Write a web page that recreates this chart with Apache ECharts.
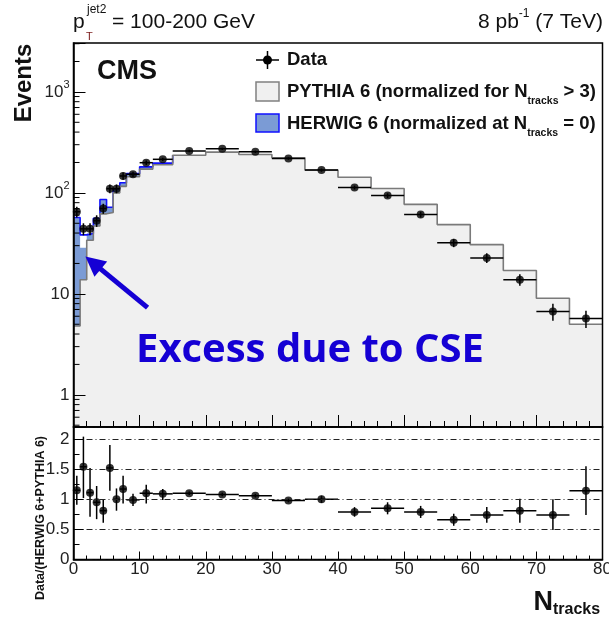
<!DOCTYPE html>
<html>
<head>
<meta charset="utf-8">
<script src="https://cdn.jsdelivr.net/npm/echarts@6/dist/echarts.min.js"></script>
<style>
html,body{margin:0;padding:0;background:#fff;}
#c{width:609px;height:617px;}
</style>
</head>
<body>
<div id="c"></div>
<script>
// ---- data ----
const binEdges = [0,1,2,3,4,5,6,7,8,10,12,15,20,25,30,35,40,45,50,55,60,65,70,75,80];
const dataEvents = [65,44,44,53,70,110,110,147,153,199,215,260,273,255,219,168,113,94,61,32,22.7,13.8,6.7,5.7];
const dataErr    = [8,6,6,7,8,11,11,12,9,10,8,7,7,7,6,6,5,5,4,3,2.5,1.8,1.3,1.1];
const pythia     = [4.8,13.8,34,47,62,64,100,116,145,172,190,236,253,240,223,168,143,110.6,77,48.5,30.7,17,9.05,5.0];
const herwigPlusPythia = [57,28.6,39.6,56,86,72,110,126,155,181,197,236,253,240,223,168,143,110.6,77,48.5,30.7,17,9.05,5.0];
const herwigOutline    = [57,38.4,39.6,56,86,72,110,126,155,181,197,236];
const ratio      = [1.15,1.54,1.11,0.95,0.81,1.52,1.0,1.17,0.99,1.1,1.09,1.1,1.08,1.06,0.98,1.0,0.79,0.85,0.79,0.66,0.74,0.81,0.74,1.14];
const ratioErrUp = [0.24,0.5,0.41,0.27,0.19,0.38,0.18,0.22,0.1,0.14,0.08,0.03,0.03,0.03,0.03,0.06,0.08,0.1,0.1,0.1,0.13,0.2,0.26,0.41];
const ratioErrDn = [0.24,0.52,0.4,0.28,0.2,0.38,0.19,0.24,0.1,0.17,0.1,0.03,0.03,0.03,0.03,0.06,0.08,0.1,0.1,0.1,0.13,0.2,0.25,0.4];
const xTicks = [0,10,20,30,40,50,60,70,80];
const ratioTicks = [0,0.5,1,1.5,2];
const logMinorTicks = [0.5,0.6,0.7,0.8,0.9,2,3,4,5,6,7,8,9,20,30,40,50,60,70,80,90,200,300,400,500,600,700,800,900,2000,3000];
const arrowTail = [11.2, 7.3];
const arrowTip = [1.8, 23.5];

// ---- helpers ----
function stepData(vals){
  const pts = vals.map((v,i)=>[binEdges[i], v]);
  if (vals.length === binEdges.length-1) pts.push([binEdges[vals.length], vals[vals.length-1]]);
  return pts;
}
const centers = binEdges.slice(0,-1).map((e,i)=>(e+binEdges[i+1])/2);
const dataErrItems = dataEvents.map((v,i)=>[centers[i], v, binEdges[i], binEdges[i+1], v-dataErr[i], v+dataErr[i]]);
const ratioErrItems = ratio.map((v,i)=>[centers[i], v, binEdges[i], binEdges[i+1], v-ratioErrDn[i], v+ratioErrUp[i]]);

function errRender(params, api){
  const c = api.coord([api.value(0), api.value(1)]);
  const l = api.coord([api.value(2), api.value(1)]);
  const r = api.coord([api.value(3), api.value(1)]);
  const lo = api.coord([api.value(0), api.value(4)]);
  const hi = api.coord([api.value(0), api.value(5)]);
  const st = {stroke:'#000', lineWidth:1.5};
  return {type:'group', children:[
    {type:'line', shape:{x1:l[0], y1:c[1], x2:r[0], y2:c[1]}, style:st},
    {type:'line', shape:{x1:c[0], y1:lo[1], x2:c[0], y2:hi[1]}, style:st}
  ]};
}
function isPow10(v){ const l = Math.log10(v); return Math.abs(l-Math.round(l))<1e-6; }

const FONT = 'Liberation Sans, Arial, sans-serif';
const chart = echarts.init(document.getElementById('c'), null, {renderer:'canvas'});
const BLUE_TXT = '#1500d4';

chart.setOption({
  animation:false,
  backgroundColor:'#fff',
  grid:[
    {left:73.5, top:43, width:529, height:384, show:true, borderColor:'#000', borderWidth:1.5, z:20, containLabel:false, outerBoundsMode:'none'},
    {left:73.5, top:427, width:529, height:132.5, show:true, borderColor:'#000', borderWidth:1.5, z:20, containLabel:false, outerBoundsMode:'none'}
  ],
  xAxis:[
    {type:'value', gridIndex:0, min:0, max:80, interval:10, z:20,
     axisLine:{lineStyle:{color:'#000', width:1.5}},
     axisTick:{inside:true, length:12, lineStyle:{color:'#000'}},
     minorTick:{show:true, splitNumber:5, length:6, lineStyle:{color:'#000'}},
     axisLabel:{show:false}, splitLine:{show:false}},
    {type:'value', gridIndex:1, min:0, max:80, interval:10, z:20,
     axisLine:{lineStyle:{color:'#000', width:1.5}},
     axisTick:{inside:true, length:8, lineStyle:{color:'#000'}},
     minorTick:{show:true, splitNumber:5, length:4, lineStyle:{color:'#000'}},
     axisLabel:{fontFamily:FONT, fontSize:17, color:'#222', margin:1, hideOverlap:false,
       formatter:(v)=> xTicks.indexOf(v)>=0 ? String(v) : ''},
     splitLine:{show:false}}
  ],
  yAxis:[
    {type:'log', logBase:10, gridIndex:0, min:0.48, max:3050, z:20,
     axisLine:{lineStyle:{color:'#000', width:1.5}},
     axisTick:{inside:true, length:12, lineStyle:{color:'#000'}},
     axisLabel:{margin:4, color:'#222',
       formatter:(v)=>{
         if(!isPow10(v)) return '';
         const e = Math.round(Math.log10(v));
         if(e===0) return '{b|1}';
         if(e===1) return '{b|10}';
         return '{b|10}{s|'+e+'}';
       },
       rich:{b:{fontFamily:FONT, fontSize:17, color:'#222', lineHeight:24},
             s:{fontFamily:FONT, fontSize:11, color:'#222', verticalAlign:'top'}}},
     splitLine:{show:false}},
    {type:'value', gridIndex:1, min:0, max:2.2, interval:0.5, z:20,
     axisLine:{lineStyle:{color:'#000', width:1.5}},
     axisTick:{inside:true, length:10, lineStyle:{color:'#000'}},
     minorTick:{show:true, splitNumber:2, length:6, lineStyle:{color:'#000'}},
     axisLabel:{fontFamily:FONT, fontSize:17, color:'#222', margin:4,
       formatter:(v)=> ratioTicks.indexOf(+v.toFixed(2))>=0 ? String(+v.toFixed(2)) : ''},
     splitLine:{show:true, lineStyle:{color:'#222', width:1, type:[6,3,1,3]}}}
  ],
  graphic:[
    // header
    {type:'text', left:73, top:12, z:100, style:{text:'p', font:'21px '+FONT, fill:'#111'}},
    {type:'text', left:87, top:4, z:100, style:{text:'jet2', font:'12px '+FONT, fill:'#111'}},
    {type:'text', left:86, top:31, z:100, style:{text:'T', font:'11px '+FONT, fill:'#7a1a1a'}},
    {type:'text', left:112, top:12, z:100, style:{text:'= 100-200 GeV', font:'21px '+FONT, fill:'#111'}},
    {type:'text', right:6, top:8, z:100, style:{
      text:'{n|8 pb}{s|-1}{n| (7 TeV)}',
      rich:{n:{font:'21px '+FONT, fill:'#111', lineHeight:28}, s:{font:'12px '+FONT, fill:'#111', verticalAlign:'top'}}}},
    // axis titles
    {type:'text', x:24, y:83, rotation:Math.PI/2, z:100, style:{text:'Events', font:'bold 24px '+FONT, fill:'#111', align:'center', verticalAlign:'middle'}},
    {type:'text', x:41, y:518, rotation:Math.PI/2, z:100, style:{text:'Data/(HERWIG 6+PYTHIA 6)', font:'bold 12.5px '+FONT, fill:'#111', align:'center', verticalAlign:'middle'}},
    {type:'text', x:553, y:603, z:100, style:{text:'N', font:'bold 27px '+FONT, fill:'#111', align:'right', verticalAlign:'middle'}},
    {type:'text', x:553, y:610, z:100, style:{text:'tracks', font:'bold 16px '+FONT, fill:'#111', align:'left', verticalAlign:'middle'}},
    // CMS
    {type:'text', x:97, y:72, z:100, style:{text:'CMS', font:'bold 27px '+FONT, fill:'#111', verticalAlign:'middle'}},
    // legend
    {type:'line', z:100, shape:{x1:256, y1:60, x2:279, y2:60}, style:{stroke:'#000', lineWidth:1.5}},
    {type:'line', z:100, shape:{x1:267.5, y1:51, x2:267.5, y2:69}, style:{stroke:'#000', lineWidth:1.5}},
    {type:'circle', z:100, shape:{cx:267.5, cy:60, r:4.5}, style:{fill:'#000'}},
    {type:'text', x:287, y:60, z:100, style:{text:'Data', font:'bold 18.5px '+FONT, fill:'#111', verticalAlign:'middle'}},
    {type:'rect', z:100, shape:{x:256, y:82, width:23, height:19}, style:{fill:'#f0f0f0', stroke:'#808080', lineWidth:1.5}},
    {type:'text', x:287, y:92, z:100, style:{
      text:'{t|PYTHIA 6 (normalized for N}{s|tracks}{t| > 3)}', verticalAlign:'middle',
      rich:{t:{font:'bold 18.5px '+FONT, fill:'#111', lineHeight:30}, s:{font:'bold 10.5px '+FONT, fill:'#111', verticalAlign:'bottom', lineHeight:14}}}},
    {type:'rect', z:100, shape:{x:256, y:114, width:23, height:18}, style:{fill:'#7b9bd5', stroke:'#1010ff', lineWidth:1.5}},
    {type:'text', x:287, y:124, z:100, style:{
      text:'{t|HERWIG 6 (normalized at N}{s|tracks}{t| = 0)}', verticalAlign:'middle',
      rich:{t:{font:'bold 18.5px '+FONT, fill:'#111', lineHeight:30}, s:{font:'bold 10.5px '+FONT, fill:'#111', verticalAlign:'bottom', lineHeight:14}}}},
    // annotation
    {type:'text', x:136, y:351, z:100, style:{text:'Excess due to CSE', font:'bold 40px "Open Sans", sans-serif', fill:BLUE_TXT, verticalAlign:'middle'}}
  ],
  series:[
    {name:'HERWIG fill', type:'line', xAxisIndex:0, yAxisIndex:0, step:'end', data:stepData(herwigPlusPythia),
     symbol:'none', lineStyle:{width:0}, areaStyle:{origin:'start', color:'#7b9bd5', opacity:1}, z:1, silent:true},
    {name:'PYTHIA fill', type:'line', xAxisIndex:0, yAxisIndex:0, step:'end', data:stepData(pythia),
     symbol:'none', lineStyle:{width:0}, areaStyle:{origin:'start', color:'#f0f0f0', opacity:1}, z:2, silent:true},
    {name:'HERWIG line', type:'line', xAxisIndex:0, yAxisIndex:0, step:'end', data:stepData(herwigOutline),
     symbol:'none', lineStyle:{width:1.6, color:'#1010ff'}, z:3, silent:true},
    {name:'PYTHIA line', type:'line', xAxisIndex:0, yAxisIndex:0, step:'end', data:stepData(pythia),
     symbol:'none', lineStyle:{width:1.6, color:'#7a7a7a'}, z:4, silent:true},
    {name:'Data err', type:'custom', xAxisIndex:0, yAxisIndex:0, data:dataErrItems, renderItem:errRender,
     encode:{x:[0,2,3], y:[1,4,5]}, z:5, silent:true},
    {name:'Data', type:'scatter', xAxisIndex:0, yAxisIndex:0, data:dataEvents.map((v,i)=>[centers[i], v]),
     symbol:'circle', symbolSize:8, itemStyle:{color:'#000'}, z:6, silent:true},
    {name:'Arrow', type:'custom', xAxisIndex:0, yAxisIndex:0, data:[[arrowTail[0], arrowTail[1], arrowTip[0], arrowTip[1]]],
     z:40, silent:true, clip:false,
     renderItem:(params, api)=>{
       const a = api.coord([api.value(0), api.value(1)]);
       const b = api.coord([api.value(2), api.value(3)]);
       const dx = b[0]-a[0], dy = b[1]-a[1], L = Math.sqrt(dx*dx+dy*dy);
       const ux = dx/L, uy = dy/L, px = -uy, py = ux;
       const head = 20, hw = 10;
       const base = [b[0]-ux*head, b[1]-uy*head];
       return {type:'group', children:[
         {type:'line', shape:{x1:a[0], y1:a[1], x2:base[0]+ux*2, y2:base[1]+uy*2}, style:{stroke:BLUE_TXT, lineWidth:5}},
         {type:'polygon', shape:{points:[[b[0],b[1]],[base[0]+px*hw, base[1]+py*hw],[base[0]-px*hw, base[1]-py*hw]]}, style:{fill:BLUE_TXT}}
       ]};
     }},
    {name:'log minor ticks', type:'custom', xAxisIndex:0, yAxisIndex:0, data:logMinorTicks.map(v=>[0,v]), z:30, silent:true,
     renderItem:(params, api)=>{
       const p = api.coord([api.value(0), api.value(1)]);
       return {type:'line', shape:{x1:p[0], y1:p[1], x2:p[0]+6, y2:p[1]}, style:{stroke:'#000', lineWidth:1}};
     }},
    {name:'Ratio err', type:'custom', xAxisIndex:1, yAxisIndex:1, data:ratioErrItems, renderItem:errRender,
     encode:{x:[0,2,3], y:[1,4,5]}, z:5, silent:true},
    {name:'Ratio', type:'scatter', xAxisIndex:1, yAxisIndex:1, data:ratio.map((v,i)=>[centers[i], v]),
     symbol:'circle', symbolSize:8, itemStyle:{color:'#000'}, z:6, silent:true}
  ]
});
</script>
</body>
</html>
